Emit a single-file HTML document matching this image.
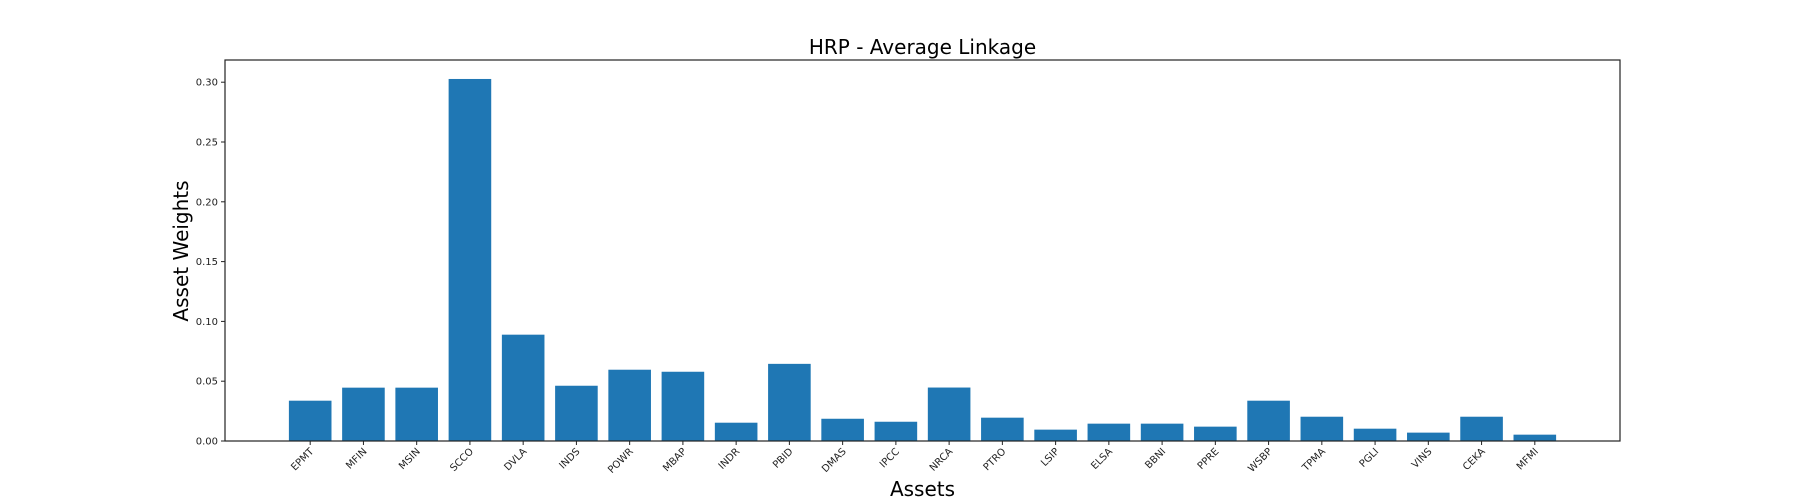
<!DOCTYPE html>
<html><head><meta charset="utf-8"><style>
html,body{margin:0;padding:0;background:#fff;}
svg{display:block;font-family:"DejaVu Sans","Liberation Sans",sans-serif;}
</style></head><body>
<svg id="chart" width="1800" height="504" viewBox="0 0 1800 504" xmlns="http://www.w3.org/2000/svg">
<rect width="1800" height="504" fill="#fff"/>
<text x="922.5" y="54" font-size="20" text-anchor="middle" fill="#000">HRP - Average Linkage</text>
<text x="922.5" y="496" font-size="20" text-anchor="middle" fill="#000">Assets</text>
<text transform="translate(188,251) rotate(-90)" font-size="20" text-anchor="middle" fill="#000">Asset Weights</text>
<g id="bars"></g>
<g id="yticks"></g>
<g id="xticks"></g>
<rect x="225" y="60" width="1395" height="381" fill="none" stroke="#222" stroke-width="1.2"/>
</svg>
<script>
const categories = ["EPMT","MFIN","MSIN","SCCO","DVLA","INDS","POWR","MBAP","INDR","PBID","DMAS","IPCC","NRCA","PTRO","LSIP","ELSA","BBNI","PPRE","WSBP","TPMA","PGLI","VINS","CEKA","MFMI"];
const weights = [0.0337,0.0446,0.0446,0.3027,0.0889,0.0462,0.0596,0.0579,0.0153,0.0645,0.0186,0.0161,0.0447,0.0195,0.0095,0.0145,0.0145,0.0120,0.0337,0.0203,0.0103,0.0070,0.0203,0.0053];
const yTickValues = [0,0.05,0.10,0.15,0.20,0.25,0.30];
const yTickLabels = ["0.00","0.05","0.10","0.15","0.20","0.25","0.30"];

const NS="http://www.w3.org/2000/svg";
const plotLeft=225,plotRight=1620,plotTop=60,plotBottom=441;
const xMin=-1.6,xMax=categories.length-1+1.6;
const yMax=(plotBottom-plotTop)/1196;
function xScale(i){return plotLeft+(i-xMin)/(xMax-xMin)*(plotRight-plotLeft);}
function yScale(v){return plotBottom-v/yMax*(plotBottom-plotTop);}
const step=xScale(1)-xScale(0),bw=step*0.8;

const gb=document.getElementById('bars');
weights.forEach((v,i)=>{
  const r=document.createElementNS(NS,'rect');
  
  
  r.setAttribute('x',xScale(i)-bw/2);
  r.setAttribute('y',yScale(v));
  r.setAttribute('width',bw);
  r.setAttribute('height',plotBottom-yScale(v));
  r.setAttribute('fill','#1f77b4');
  gb.appendChild(r);
});
const gy=document.getElementById('yticks');
yTickValues.forEach((v,i)=>{
  const y=yScale(v);
  const l=document.createElementNS(NS,'line');
  
  
  l.setAttribute('x1',plotLeft-4);l.setAttribute('x2',plotLeft);
  l.setAttribute('y1',y);l.setAttribute('y2',y);
  l.setAttribute('stroke','#222');
  gy.appendChild(l);
  const t=document.createElementNS(NS,'text');
  
  
  t.setAttribute('x',plotLeft-7);t.setAttribute('y',y+3.5);
  t.setAttribute('font-size','10');t.setAttribute('text-anchor','end');
  t.setAttribute('fill','#222');
  t.textContent=yTickLabels[i];
  gy.appendChild(t);
});
const gx=document.getElementById('xticks');
categories.forEach((c,i)=>{
  const x=xScale(i);
  const l=document.createElementNS(NS,'line');
  
  
  l.setAttribute('x1',x);l.setAttribute('x2',x);
  l.setAttribute('y1',plotBottom);l.setAttribute('y2',plotBottom+4);
  l.setAttribute('stroke','#222');
  gx.appendChild(l);
  const t=document.createElementNS(NS,'text');
  
  
  t.setAttribute('transform','translate('+(x+4)+','+(plotBottom+11)+') rotate(-45)');
  t.setAttribute('font-size','10');t.setAttribute('text-anchor','end');
  t.setAttribute('fill','#222');
  t.textContent=c;
  gx.appendChild(t);
});
</script>
</body></html>
